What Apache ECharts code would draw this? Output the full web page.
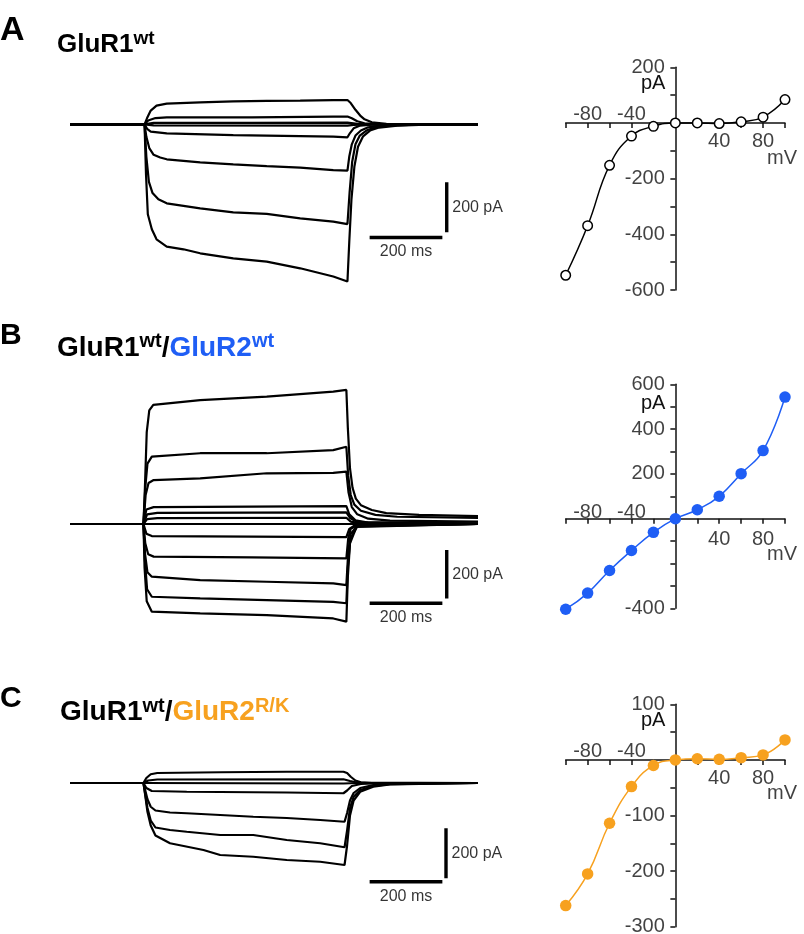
<!DOCTYPE html>
<html><head><meta charset="utf-8">
<script src="https://cdn.jsdelivr.net/npm/echarts@6/dist/echarts.min.js"></script>
<style>html,body{margin:0;padding:0;background:#fff}#c{width:804px;height:934px}</style>
</head><body><div id="c"></div>
<script>
// ---------- I-V data (mV, pA) ----------
const voltages = [-100,-80,-60,-40,-20,0,20,40,60,80,100];
const ivA = [-547,-369,-152,-47,-12,0,0,-2,4,21,84];
const ivB = [-404,-332,-231,-142,-61,0,40,100,201,304,543];
const ivC = [-262,-205,-114,-48,-10,0,2,1,4,9,36];

// ---------- tick labels ----------
const ivXLabelsAbove = [-80,-40];
const ivXLabelsBelow = [40,80];
const ivYLabelsA = [200,-200,-400,-600];
const ivYLabelsB = [600,400,200,-400];
const ivYLabelsC = [100,-100,-200,-300];

// ---------- current traces [ms, pA] ----------
const traceA1 = [[0,0],[205,0],[212,25],[222,55],[238,75],[266,83],[358,88],[449,92],[541,94],[633,95],[724,97],[763,97],[772,85],[785,58],[798,35],[810,20],[830,8],[870,2],[950,0],[1122,0]];
const traceA2 = [[0,0],[205,0],[215,15],[235,25],[266,28],[500,28],[724,31],[763,31],[775,24],[790,12],[810,4],[850,0],[1122,0]];
const traceA3 = [[0,0],[205,0],[230,6],[500,6],[763,7],[790,2],[830,0],[1122,0]];
const traceA4 = [[0,0],[205,0],[230,-4],[763,-5],[780,-2],[820,0],[1122,0]];
const traceA5 = [[0,0],[205,0],[212,-18],[222,-29],[266,-36],[449,-43],[724,-49],[763,-52],[770,-35],[780,-16],[798,-5],[830,-1],[1122,0]];
const traceA6 = [[0,0],[205,0],[210,-50],[218,-95],[230,-122],[248,-133],[266,-140],[358,-152],[449,-160],[541,-167],[633,-173],[724,-183],[763,-185],[768,-129],[775,-80],[785,-45],[800,-25],[820,-12],[860,-4],[920,-1],[1122,0]];
const traceA7 = [[0,0],[205,0],[210,-130],[217,-230],[227,-275],[243,-300],[266,-316],[358,-336],[449,-352],[541,-358],[633,-376],[724,-389],[763,-399],[769,-270],[776,-150],[785,-80],[797,-45],[815,-25],[840,-12],[880,-5],[950,-1],[1122,0]];
const traceA8 = [[0,0],[205,0],[209,-200],[214,-360],[225,-420],[238,-460],[266,-489],[312,-500],[358,-516],[449,-536],[541,-549],[633,-576],[724,-609],[763,-629],[768,-470],[774,-300],[782,-170],[792,-90],[806,-48],[825,-25],[850,-13],[900,-5],[980,-1],[1122,0]];

const traceB1 = [[0,0],[202,0],[206,150],[211,380],[218,470],[229,493],[358,513],[541,527],[724,548],[760,555],[764,400],[770,230],[777,150],[786,105],[800,78],[830,58],[870,45],[960,38],[1122,33]];
const traceB2 = [[0,0],[202,0],[207,150],[213,250],[225,279],[358,293],[541,293],[724,306],[760,320],[765,200],[772,120],[782,80],[800,55],[840,38],[900,30],[1122,25]];
const traceB3 = [[0,0],[202,0],[208,120],[216,170],[230,182],[358,189],[541,210],[724,212],[760,217],[766,130],[775,70],[790,40],[820,22],[880,14],[1122,10]];
const traceB4 = [[0,0],[202,0],[210,60],[230,70],[500,72],[760,74],[768,40],[785,15],[820,6],[1122,3]];
const traceB5 = [[0,0],[202,0],[212,40],[240,46],[760,48],[770,25],[790,8],[1122,2]];
const traceB6 = [[0,0],[202,0],[212,20],[240,24],[760,26],[772,10],[800,2],[1122,0]];
const traceB7 = [[0,0],[202,0],[760,0],[1122,0]];
const traceB8 = [[0,0],[202,0],[210,-40],[225,-50],[500,-52],[760,-54],[768,-20],[785,-4],[1122,0]];
const traceB9 = [[0,0],[202,0],[207,-80],[215,-125],[230,-135],[500,-138],[760,-142],[765,-60],[772,-20],[790,-5],[1122,0]];
const traceB10 = [[0,0],[202,0],[206,-120],[213,-200],[225,-218],[358,-232],[541,-239],[724,-246],[760,-253],[765,-120],[772,-40],[790,-8],[1122,0]];
const traceB11 = [[0,0],[202,0],[206,-150],[212,-270],[225,-301],[358,-308],[541,-315],[724,-322],[760,-328],[764,-180],[771,-60],[790,-10],[1122,0]];
const traceB12 = [[0,0],[202,0],[205,-180],[211,-320],[225,-363],[358,-370],[541,-377],[724,-391],[760,-404],[764,-220],[770,-80],[788,-12],[1122,0]];

const traceC1 = [[0,0],[202,0],[210,20],[222,35],[240,40],[413,43],[596,45],[752,45],[762,40],[772,25],[785,10],[800,3],[830,0],[1122,0]];
const traceC2 = [[0,0],[202,0],[215,10],[240,14],[752,15],[770,8],[790,2],[1122,0]];
const traceC3 = [[0,0],[202,0],[752,-2],[790,0],[1122,0]];
const traceC4 = [[0,0],[202,0],[210,-20],[225,-32],[321,-35],[596,-38],[752,-41],[762,-30],[775,-12],[800,-4],[850,-1],[1122,0]];
const traceC5 = [[0,0],[202,0],[207,-30],[213,-65],[222,-95],[235,-110],[275,-118],[321,-121],[413,-128],[504,-135],[596,-140],[688,-148],[755,-155],[762,-120],[770,-70],[780,-40],[798,-20],[834,-8],[880,-3],[1122,0]];
const traceC6 = [[0,0],[202,0],[207,-45],[213,-100],[222,-150],[235,-178],[275,-188],[321,-195],[413,-208],[504,-208],[596,-228],[688,-241],[755,-257],[762,-190],[770,-100],[780,-55],[798,-28],[834,-12],[880,-5],[1122,0]];
const traceC7 = [[0,0],[202,0],[207,-50],[213,-115],[222,-170],[235,-210],[275,-241],[367,-268],[413,-288],[504,-295],[596,-308],[688,-315],[755,-328],[762,-250],[770,-130],[780,-70],[798,-35],[834,-15],[880,-6],[1122,0]];

const tracesA = [traceA1,traceA2,traceA3,traceA4,traceA5,traceA6,traceA7,traceA8];
const tracesB = [traceB1,traceB2,traceB3,traceB4,traceB5,traceB6,traceB7,traceB8,traceB9,traceB10,traceB11,traceB12];
const tracesC = [traceC1,traceC2,traceC3,traceC4,traceC5,traceC6,traceC7];

// ---------- scale bars (ms, pA) ----------
const scaleBarMs = 200;
const scaleBarPA = 200;
// [horizontal bar start ms, horizontal bar pA level, vertical bar ms, vertical bar top pA]
const scaleAnchorA = [824, -453, 1036, -232];
const scaleAnchorB = [824, -328, 1036, -108];
const scaleAnchorC = [824, -395, 1034, -181];

// ---------- build ----------
const FONT = '"Liberation Sans", Arial, Helvetica, sans-serif';
const BLUE = '#1f5ef5';
const ORANGE = '#f7a11f';
const INK = '#111';

const grid = [], xAxis = [], yAxis = [], series = [];

function tracePanel(gridBox, yMin, yMax, traces, anchor) {
  const gi = grid.length; grid.push(gridBox);
  const xi = xAxis.length;
  xAxis.push({gridIndex: gi, type: 'value', min: 0, max: 1122, show: false});
  const yi = yAxis.length;
  yAxis.push({gridIndex: gi, type: 'value', min: yMin, max: yMax, show: false});
  traces.forEach(tr => series.push({
    type: 'line', xAxisIndex: xi, yAxisIndex: yi, data: tr, showSymbol: false, symbol: 'none',
    silent: true, lineStyle: {color: '#000', width: 2.2}, z: 2
  }));
  const [h0, hI, vT, vTop] = anchor;
  series.push({type: 'line', xAxisIndex: xi, yAxisIndex: yi, symbol: 'none', silent: true,
    data: [[h0, hI], [h0 + scaleBarMs, hI]], lineStyle: {color: '#000', width: 3.6, cap: 'butt'}});
  series.push({type: 'line', xAxisIndex: xi, yAxisIndex: yi, symbol: 'none', silent: true,
    data: [[vT, vTop], [vT, vTop - scaleBarPA]], lineStyle: {color: '#000', width: 3.4, cap: 'butt'}});
  series.push({type: 'scatter', xAxisIndex: xi, yAxisIndex: yi, silent: true, symbolSize: 1,
    itemStyle: {color: 'rgba(0,0,0,0)'},
    data: [
      {name: scaleBarPA + ' pA', value: [vT, vTop - scaleBarPA / 2], label: {position: 'right', distance: 5}},
      {name: scaleBarMs + ' ms', value: [h0 + scaleBarMs / 2, hI], label: {position: 'bottom', distance: 6}}
    ],
    label: {show: true, formatter: p => p.name, color: '#000', fontSize: 16, fontFamily: FONT}
  });
}

function ivPanel(gridBox, yMin, yMax, yInterval, yLabels, data, color, open, opts) {
  const gi = grid.length; grid.push(gridBox);
  const yi = yAxis.length;
  const xi = xAxis.length;
  const lineStyle = {color: INK, width: 1.5};
  xAxis.push({gridIndex: gi, type: 'value', min: -100, max: 100, interval: 20, position: 'bottom',
    axisLine: {onZero: true, onZeroAxisIndex: yi, lineStyle},
    axisTick: {show: true, length: 5, lineStyle},
    splitLine: {show: false},
    axisLabel: {show: false}
  });
  yAxis.push({gridIndex: gi, type: 'value', min: yMin, max: yMax, interval: yInterval, position: 'left',
    axisLine: {onZero: true, onZeroAxisIndex: xi, lineStyle},
    axisTick: {show: true, length: 5, lineStyle},
    splitLine: {show: false},
    axisLabel: {show: false},
    name: 'pA', nameLocation: 'end', nameGap: -opts.paOffset,
    nameTextStyle: {color: INK, fontSize: 20, fontFamily: FONT, align: 'right', verticalAlign: 'middle',
      padding: [0, 10, 0, 0]}
  });
  series.push({
    type: 'line', xAxisIndex: xi, yAxisIndex: yi, smooth: 0.45, silent: true, clip: false,
    data: voltages.map((v, i) => [v, data[i]]),
    symbol: 'circle', symbolSize: open ? 9.5 : 11.5,
    lineStyle: {color: color, width: 1.5},
    itemStyle: open ? {color: '#fff', borderColor: color, borderWidth: 1.5} : {color: color, borderWidth: 0},
    z: 5
  });
  // tick labels and unit, placed at axis values through the same scales
  const labelData = [];
  ivXLabelsAbove.forEach(v => labelData.push({name: String(v), value: [v, 0], label: {position: 'top', distance: opts.aboveDist}}));
  ivXLabelsBelow.forEach(v => labelData.push({name: String(v), value: [v, 0], label: {position: 'bottom', distance: opts.belowDist}}));
  yLabels.forEach(v => labelData.push({name: String(v), value: [0, v], label: {position: 'left', distance: 10}}));
  labelData.push({name: 'mV', value: [100, 0], label: {position: 'inside', align: 'right', verticalAlign: 'middle', offset: [12, opts.mvOffset]}});
  series.push({type: 'scatter', xAxisIndex: xi, yAxisIndex: yi, silent: true, symbolSize: 1, z: 1,
    itemStyle: {color: 'rgba(0,0,0,0)'}, data: labelData,
    label: {show: true, formatter: p => p.name, color: INK, fontSize: 20, fontFamily: FONT}
  });
}

// Panel A
tracePanel({left: 70, top: 74.3, width: 408, height: 225}, -700, 200, tracesA, scaleAnchorA);
ivPanel({left: 565.7, top: 67.3, width: 219.3, height: 222.7}, -600, 200, 100, ivYLabelsA, ivA, '#000', true,
  {aboveDist: -2, belowDist: 8, mvOffset: 36, paOffset: 16});
// Panel B
tracePanel({left: 70, top: 354.9, width: 408, height: 289.9}, -500, 700, tracesB, scaleAnchorB);
ivPanel({left: 565.7, top: 384.3, width: 219.3, height: 224}, -400, 600, 100, ivYLabelsB, ivB, BLUE, false,
  {aboveDist: -4, belowDist: 10, mvOffset: 36, paOffset: 19});
// Panel C
tracePanel({left: 70, top: 733, width: 408, height: 175}, -500, 200, tracesC, scaleAnchorC);
ivPanel({left: 565.7, top: 704.3, width: 219.3, height: 222.4}, -300, 100, 50, ivYLabelsC, ivC, ORANGE, false,
  {aboveDist: -2, belowDist: 8, mvOffset: 34, paOffset: 16});

const letterStyle = (size) => ({fontSize: size, fontWeight: 'bold', color: '#000', fontFamily: FONT, lineHeight: size});
const mainRich = (size, lh, color) => ({fontSize: size, fontWeight: 'bold', color: color, fontFamily: FONT, lineHeight: lh, verticalAlign: 'middle'});
const supRich = (size, lh, color) => ({fontSize: size, fontWeight: 'bold', color: color, fontFamily: FONT, lineHeight: lh, verticalAlign: 'top'});

const title = [
  {text: 'A', left: 0, top: 13.8, padding: 0, textStyle: letterStyle(34)},
  {text: 'B', left: 0, top: 321, padding: 0, textStyle: letterStyle(30)},
  {text: 'C', left: 0, top: 684, padding: 0, textStyle: letterStyle(30)},
  {text: '{m|GluR1}{s|wt}', left: 57, top: 29.5, padding: 0,
    textStyle: {rich: {m: mainRich(26, 30, '#000'), s: supRich(19, 21, '#000')}}},
  {text: '{m|GluR1}{s|wt}{m|/}{mb|GluR2}{sb|wt}', left: 57, top: 331.8, padding: 0,
    textStyle: {rich: {m: mainRich(28, 32, '#000'), s: supRich(20, 23, '#000'), mb: mainRich(28, 32, BLUE), sb: supRich(20, 23, BLUE)}}},
  {text: '{m|GluR1}{s|wt}{m|/}{mo|GluR2}{so|R/K}', left: 60, top: 696, padding: 0,
    textStyle: {rich: {m: mainRich(28, 32, '#000'), s: supRich(20, 19, '#000'), mo: mainRich(28, 32, ORANGE), so: supRich(20, 14, ORANGE)}}}
];

const chart = echarts.init(document.getElementById('c'), null, {renderer: 'canvas'});
chart.setOption({animation: false, backgroundColor: '#fff', title, grid, xAxis, yAxis, series});
</script></body></html>
